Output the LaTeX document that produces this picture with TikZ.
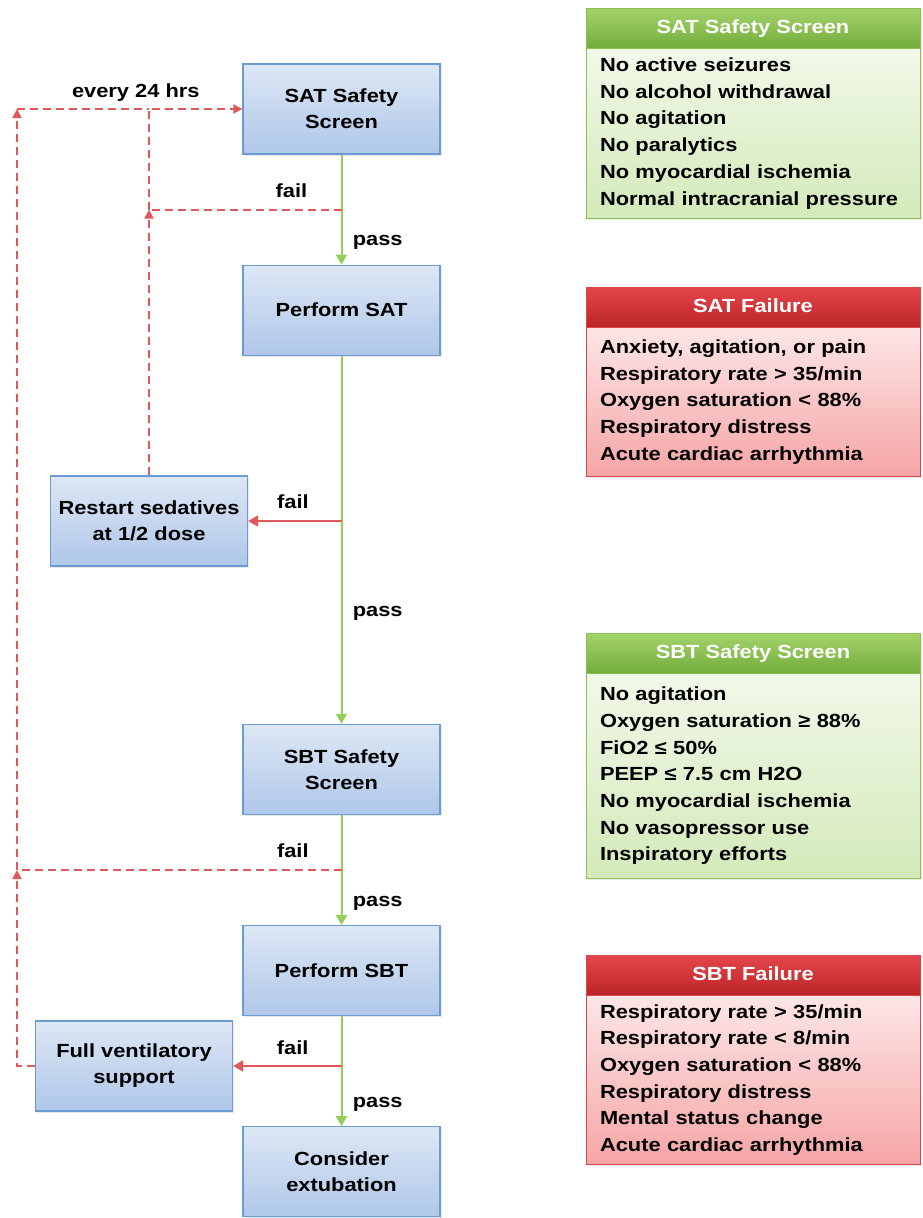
\documentclass[tikz,border=0pt]{standalone}
\usepackage{fontspec}
\setmainfont{Liberation Sans}[FakeStretch=1.15]
\usetikzlibrary{arrows.meta,positioning,shadows,calc}
\definecolor{boxtop}{HTML}{DDE7F5}
\definecolor{boxbot}{HTML}{AFC7E9}
\definecolor{boxline}{HTML}{6C9BD2}
\definecolor{passgreen}{HTML}{94CF5A}
\definecolor{failred}{HTML}{E0585A}
\definecolor{hgreentop}{HTML}{A4D36C}
\definecolor{hgreenbot}{HTML}{74AD3B}
\definecolor{bgreentop}{HTML}{F2F8E9}
\definecolor{bgreenbot}{HTML}{D3EABA}
\definecolor{gline}{HTML}{8CC152}
\definecolor{hredtop}{HTML}{E4474B}
\definecolor{hredbot}{HTML}{BC2427}
\definecolor{bredtop}{HTML}{FDE6E6}
\definecolor{bredbot}{HTML}{F6A5A6}
\definecolor{rline}{HTML}{D8474A}
\newcommand{\boxfont}{\bfseries\fontsize{19}{26}\selectfont}

\begin{document}
\begin{tikzpicture}[x=1pt, y=-1pt,
  stepbox/.style={draw=boxline, line width=1.2pt, top color=boxtop, bottom color=boxbot,
    minimum width=197pt, minimum height=90pt, align=center, font=\boxfont,
    drop shadow={opacity=0.18, shadow xshift=1.5pt, shadow yshift=-1.5pt}},
  pass/.style={-{Triangle[width=11pt,length=10pt]}, passgreen, line width=2pt},
  fail/.style={-{Triangle[width=11pt,length=10pt]}, failred, line width=2pt},
  back/.style={draw=failred, line width=1.8pt, dash pattern=on 8pt off 5pt},
  backto/.style={back, -{Triangle[width=9pt,length=9pt]}},
  lbl/.style={font=\boxfont, text=black},
  hdr/.style={minimum width=334pt, minimum height=40pt, text=white, font=\boxfont,
    text depth=2pt, drop shadow={opacity=0.15, shadow xshift=1.5pt, shadow yshift=-1.5pt}},
  okhdr/.style={hdr, draw=gline, top color=hgreentop, bottom color=hgreenbot},
  badhdr/.style={hdr, draw=rline, top color=hredtop, bottom color=hredbot},
  list/.style={below=0pt of #1, minimum width=334pt, text width=306pt, inner xsep=14pt,
    align=left, font=\bfseries\fontsize{19}{26.7}\selectfont,
    drop shadow={opacity=0.15, shadow xshift=1.5pt, shadow yshift=-1.5pt}},
  oklist/.style={list=#1, draw=gline, top color=bgreentop, bottom color=bgreenbot},
  badlist/.style={list=#1, draw=rline, top color=bredtop, bottom color=bredbot}]
  \useasboundingbox (0,0) rectangle (923,1218);

  % main column
  \node[stepbox] (satscreen) at (341.5,109) {SAT Safety\\Screen};
  \node[stepbox, below=110pt of satscreen] (sat) {Perform SAT};
  \node[stepbox, below=368pt of sat] (sbtscreen) {SBT Safety\\Screen};
  \node[stepbox, below=110pt of sbtscreen] (sbt) {Perform SBT};
  \node[stepbox, below=110pt of sbt] (extub) {Consider\\extubation};
  \node[stepbox] (restart) at (149,521) {Restart sedatives\\at 1/2 dose};
  \node[stepbox] (fullvent) at (134,1066) {Full ventilatory\\support};

  \coordinate (satfail) at ($(satscreen.south)!0.5!(sat.north)$);
  \coordinate (sbtfail) at ($(sbtscreen.south)!0.5!(sbt.north)$);
  \coordinate (loop) at (17,0);

  \draw[pass] (satscreen) -- node[lbl, right, pos=0.8, xshift=7pt]{pass} (sat);
  \draw[pass] (sat) -- node[lbl, right, pos=0.70, xshift=7pt]{pass} (sbtscreen);
  \draw[pass] (sbtscreen) -- node[lbl, right, pos=0.8, xshift=7pt]{pass} (sbt);
  \draw[pass] (sbt) -- node[lbl, right, pos=0.8, xshift=7pt]{pass} (extub);
  \draw[fail] (restart.east -| sat.south) -- node[lbl, above, pos=0.52, yshift=8pt]{fail} (restart.east);
  \draw[fail] (fullvent.east -| sbt.south) -- node[lbl, above, pos=0.45, yshift=7pt]{fail} (fullvent.east);

  % dashed loops back to the safety screen
  \draw[back] (satfail) -- node[lbl, above, pos=0.26, yshift=8pt]{fail} (satfail -| restart.north);
  \draw[backto] (restart.north) -- (restart.north |- satfail);
  \draw[backto] (restart.north |- satfail) -- (restart.north |- satscreen.west) -- (satscreen.west);
  \draw[back] (sbtfail) -- node[lbl, above, pos=0.15, yshift=8pt]{fail} (sbtfail -| loop);
  \draw[backto] (fullvent.west) -- (fullvent.west -| loop) -- (loop |- sbtfail);
  \draw[backto] (loop |- sbtfail) -- (loop |- satscreen.west);
  \draw[back] (loop |- satscreen.west) -- node[lbl, above, pos=0.9, yshift=3pt]{every 24 hrs} (restart.north |- satscreen.west);

  % criteria panels
  \node[okhdr] (satsshd) at (753,28) {SAT Safety Screen};
  \node[oklist=satsshd, minimum height=170pt] (satsslist) {No active seizures\\No alcohol withdrawal\\No agitation\\No paralytics\\No myocardial ischemia\\Normal intracranial pressure};
  \node[badhdr] (satfhd) at (753,307) {SAT Failure};
  \node[badlist=satfhd, minimum height=149pt] (satflist) {Anxiety, agitation, or pain\\Respiratory rate > 35/min\\Oxygen saturation < 88\%\\Respiratory distress\\Acute cardiac arrhythmia};
  \node[okhdr] (sbtsshd) at (753,653) {SBT Safety Screen};
  \node[oklist=sbtsshd, minimum height=205pt] (sbtsslist) {No agitation\\Oxygen saturation ≥ 88\%\\FiO2 ≤ 50\%\\PEEP ≤ 7.5 cm H2O\\No myocardial ischemia\\No vasopressor use\\Inspiratory efforts};
  \node[badhdr] (sbtfhd) at (753,975) {SBT Failure};
  \node[badlist=sbtfhd, minimum height=169pt] (sbtflist) {Respiratory rate > 35/min\\Respiratory rate < 8/min\\Oxygen saturation < 88\%\\Respiratory distress\\Mental status change\\Acute cardiac arrhythmia};
\end{tikzpicture}
\end{document}
